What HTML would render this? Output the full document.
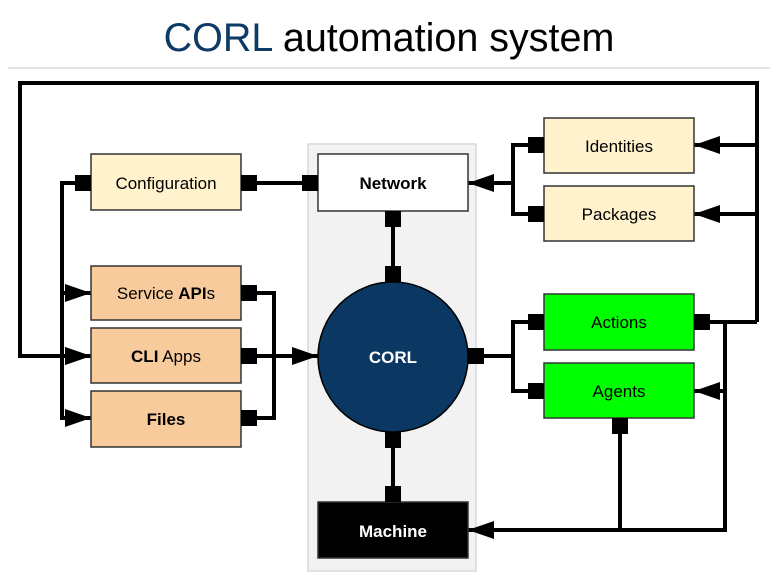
<!DOCTYPE html>
<html><head><meta charset="utf-8"><style>
html,body{margin:0;padding:0;background:#fff;}
svg{display:block;font-family:"Liberation Sans",Arial,sans-serif;}
</style></head><body>
<svg width="778" height="582" viewBox="0 0 778 582" xmlns="http://www.w3.org/2000/svg">
<defs>
<marker id="a" viewBox="0 0 10 10" refX="10" refY="5" markerWidth="26" markerHeight="18" markerUnits="userSpaceOnUse" orient="auto" preserveAspectRatio="none"><path d="M0,0L10,5L0,10z" fill="#000"/></marker>
</defs>
<text x="389" y="51" text-anchor="middle" font-size="39.5"><tspan fill="#0e3a66">CORL</tspan> automation system</text>
<line x1="8" y1="68" x2="770" y2="68" stroke="#d9d9d9" stroke-width="1.5"/>

<rect x="308" y="144" width="168" height="427" fill="#f2f2f2" stroke="#d9d9d9" stroke-width="1.5"/>

<g stroke="#000" stroke-width="4" fill="none">
<polyline points="757,322 757,83 20,83 20,356 91,356" marker-end="url(#a)"/>
<polyline points="75,183 62,183 62,418 91,418" marker-end="url(#a)"/>
<line x1="62" y1="293" x2="91" y2="293" marker-end="url(#a)"/>
<line x1="62" y1="356" x2="91" y2="356" marker-end="url(#a)"/>
<line x1="257" y1="183" x2="302" y2="183"/>
<polyline points="257,293 274,293 274,418 257,418"/>
<line x1="257" y1="356" x2="318" y2="356" marker-end="url(#a)"/>
<line x1="393" y1="227" x2="393" y2="266"/>
<line x1="393" y1="448" x2="393" y2="486"/>
<polyline points="528,145 513,145 513,214 528,214"/>
<line x1="513" y1="183" x2="468" y2="183" marker-end="url(#a)"/>
<line x1="757" y1="145" x2="694" y2="145" marker-end="url(#a)"/>
<line x1="757" y1="214" x2="694" y2="214" marker-end="url(#a)"/>
<polyline points="528,322 513,322 513,391 528,391"/>
<line x1="484" y1="356" x2="513" y2="356"/>
<line x1="710" y1="322" x2="757" y2="322"/>
<polyline points="725,322 725,530 468,530" marker-end="url(#a)"/>
<line x1="725" y1="391" x2="694" y2="391" marker-end="url(#a)"/>
<line x1="620" y1="434" x2="620" y2="530"/>
</g>

<g stroke="#333" stroke-width="1.5">
<rect x="91" y="154" width="150" height="56" fill="#fff2cc"/>
<rect x="91" y="266" width="150" height="54" fill="#f8cb9d"/>
<rect x="91" y="328" width="150" height="55" fill="#f8cb9d"/>
<rect x="91" y="391" width="150" height="56" fill="#f8cb9d"/>
<rect x="318" y="154" width="150" height="57" fill="#fff"/>
<rect x="318" y="502" width="150" height="56" fill="#000"/>
<rect x="544" y="118" width="150" height="55" fill="#fff2cc"/>
<rect x="544" y="186" width="150" height="55" fill="#fff2cc"/>
<rect x="544" y="294" width="150" height="56" fill="#00ff00"/>
<rect x="544" y="363" width="150" height="55" fill="#00ff00"/>
<circle cx="393" cy="357" r="75" fill="#0a3862" stroke="#000"/>
</g>

<g fill="#000">
<rect x="75" y="175" width="16" height="16"/>
<rect x="241" y="175" width="16" height="16"/>
<rect x="302" y="175" width="16" height="16"/>
<rect x="241" y="285" width="16" height="16"/>
<rect x="241" y="348" width="16" height="16"/>
<rect x="241" y="410" width="16" height="16"/>
<rect x="385" y="211" width="16" height="16"/>
<rect x="385" y="266" width="16" height="16"/>
<rect x="385" y="432" width="16" height="16"/>
<rect x="385" y="486" width="16" height="16"/>
<rect x="468" y="348" width="16" height="16"/>
<rect x="528" y="137" width="16" height="16"/>
<rect x="528" y="206" width="16" height="16"/>
<rect x="528" y="314" width="16" height="16"/>
<rect x="528" y="383" width="16" height="16"/>
<rect x="694" y="314" width="16" height="16"/>
<rect x="612" y="418" width="16" height="16"/>
</g>

<g font-size="17" text-anchor="middle" fill="#000">
<text x="166" y="189">Configuration</text>
<text x="166" y="299">Service <tspan font-weight="bold">API</tspan>s</text>
<text x="166" y="362"><tspan font-weight="bold">CLI</tspan> Apps</text>
<text x="166" y="425" font-weight="bold">Files</text>
<text x="393" y="189" font-weight="bold">Network</text>
<text x="393" y="363" font-weight="bold" fill="#fff">CORL</text>
<text x="393" y="537" font-weight="bold" fill="#fff">Machine</text>
<text x="619" y="152">Identities</text>
<text x="619" y="220">Packages</text>
<text x="619" y="328">Actions</text>
<text x="619" y="397">Agents</text>
</g>
</svg>
</body></html>
